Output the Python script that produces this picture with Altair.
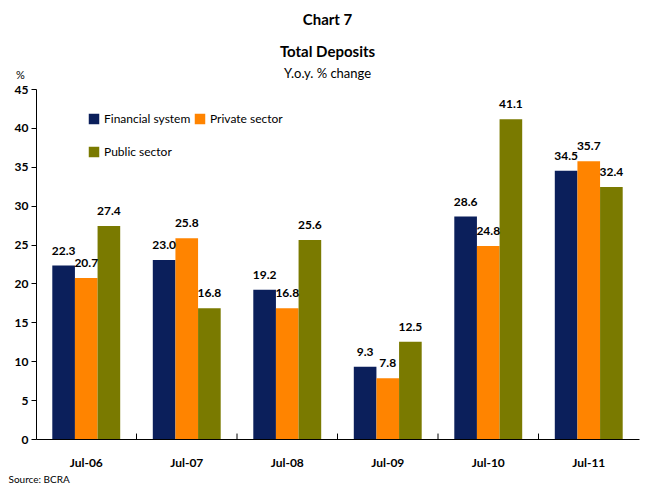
import altair as alt
import pandas as pd

years = ["Jul-06", "Jul-07", "Jul-08", "Jul-09", "Jul-10", "Jul-11"]
series = ["Financial system", "Private sector", "Public sector"]
financial = [22.3, 23.0, 19.2, 9.3, 28.6, 34.5]
private = [20.7, 25.8, 16.8, 7.8, 24.8, 35.7]
public = [27.4, 16.8, 25.6, 12.5, 41.1, 32.4]
colors = ["#0b1f5b", "#ff8400", "#7a7a00"]

rows = []
for i, y in enumerate(years):
    for s, vals in zip(series, [financial, private, public]):
        rows.append({"year": y, "series": s, "value": vals[i], "label": f"{vals[i]:.1f}"})
df = pd.DataFrame(rows)
ticks_df = pd.DataFrame({"year": years[1:], "value": [0] * 5, "y1": [0.7] * 5})

# legend fills column-major: order so rows read Financial | Private, then Public
legend_order = [series[0], series[2], series[1]]
legend_colors = [colors[0], colors[2], colors[1]]

FONT = "Lato"

x_scale = alt.Scale(paddingInner=0, paddingOuter=0)
x_axis = alt.Axis(title="Source: BCRA", titleFont=FONT, titleFontSize=10,
                  titleFontWeight="normal", titleAnchor="start", titleAlign="left",
                  titleX=-28, titleY=35, labelAngle=0, labelFont=FONT,
                  labelFontSize=12, labelFontWeight="bold", labelPadding=18,
                  ticks=False, domainColor="black", labelColor="black",
                  titleColor="black")
y_scale = alt.Scale(domain=[0, 45], nice=False)
y_axis = alt.Axis(values=list(range(0, 50, 5)), title="%", titleAngle=0,
                  titleFont=FONT, titleFontSize=11, titleFontWeight="normal",
                  titleX=-16, titleY=-9, titleAlign="center", titleColor="black",
                  labelFont=FONT, labelFontSize=12, labelFontWeight="bold",
                  labelOverlap=False, grid=False, tickColor="black",
                  domainColor="black", labelColor="black", tickSize=5,
                  labelPadding=3)

x_enc = alt.X("year:N", sort=years, scale=x_scale, axis=x_axis)
y_enc = alt.Y("value:Q", scale=y_scale, axis=y_axis)
xoff = alt.XOffset("series:N", sort=series,
                   scale=alt.Scale(paddingInner=0, paddingOuter=0.72))
color = alt.Color("series:N",
                  scale=alt.Scale(domain=legend_order, range=legend_colors),
                  legend=alt.Legend(title=None, orient="none", legendX=52, legendY=24,
                                    columns=2, symbolType="square", symbolSize=110,
                                    symbolStrokeWidth=0, labelFont=FONT, labelFontSize=12,
                                    labelColor="black", rowPadding=21, columnPadding=3,
                                    labelOffset=4))

bars = alt.Chart(df).mark_bar(opacity=1).encode(x=x_enc, xOffset=xoff, y=y_enc, color=color)
labels = alt.Chart(df).mark_text(baseline="bottom", dy=-8, font=FONT, fontSize=12,
                                 fontWeight="bold", color="black").encode(
    x=x_enc, xOffset=xoff, y=y_enc, text="label:N")
tick_marks = alt.Chart(ticks_df).mark_rule(color="black", strokeWidth=1).encode(
    x=alt.X("year:N", sort=years, bandPosition=0, axis=x_axis, scale=x_scale),
    y=y_enc, y2="y1:Q")

chart = alt.layer(bars, labels, tick_marks).properties(
    width=603, height=350,
    padding={"left": 0, "top": 5, "right": 2, "bottom": 2},
    title=alt.TitleParams(["Chart 7", "Total Deposits"], subtitle="Y.o.y. % change",
                          font=FONT, fontSize=15, fontWeight="bold", lineHeight=32,
                          subtitleFont=FONT, subtitleFontSize=13, subtitleColor="black",
                          subtitlePadding=8, anchor="middle", dx=-10, offset=-12,
                          color="black"),
).configure_view(stroke=None).configure_axis(domainWidth=1)

chart.save("out.html", embed_options={"renderer": "svg", "actions": False})
